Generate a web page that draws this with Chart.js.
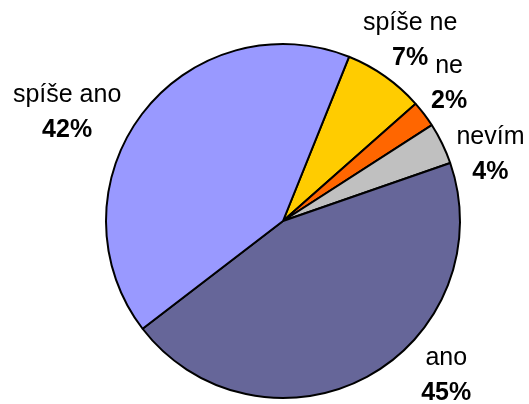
<!DOCTYPE html>
<html>
<head>
<meta charset="utf-8">
<script src="https://cdn.jsdelivr.net/npm/chart.js@4/dist/chart.umd.min.js"></script>
<style>
  html, body { margin: 0; padding: 0; background: #fff; }
  canvas { display: block; }
</style>
</head>
<body>
<canvas id="pie-canvas" width="529" height="404"></canvas>
<script>
// Answer categories, in drawing order (clockwise from the top-right)
const categories = ['spíše ne', 'ne', 'nevím', 'ano', 'spíše ano'];
// Share of answers in percent
const shares = [7.4, 2.4, 3.8, 44.9, 41.5];
const sliceColors = ['#FFCC00', '#FF6600', '#C0C0C0', '#666699', '#9999FF'];

// Label placement: angle shift from the slice middle (deg) and distance as a multiple of radius
const labelShift = [1, -1, 10, -17, -12];
const labelDist = [1.216, 1.193, 1.219, 1.297, 1.348];

const FONT = "'Liberation Sans', Arial, sans-serif";

// Outside labels: category name, then bold percentage underneath
const outsideLabels = {
  id: 'outsideLabels',
  afterDatasetsDraw(chart) {
    const ctx = chart.ctx;
    const meta = chart.getDatasetMeta(0);
    const total = shares.reduce((s, v) => s + v, 0);
    ctx.save();
    ctx.fillStyle = '#000';
    ctx.textAlign = 'center';
    ctx.textBaseline = 'alphabetic';
    meta.data.forEach((arc, i) => {
      const p = arc.getProps(['x', 'y', 'startAngle', 'endAngle', 'outerRadius'], true);
      const mid = (p.startAngle + p.endAngle) / 2 + labelShift[i] * Math.PI / 180;
      const r = p.outerRadius * labelDist[i];
      const lx = p.x + Math.cos(mid) * r;
      const ly = p.y + Math.sin(mid) * r;
      ctx.font = '25px ' + FONT;
      ctx.fillText(categories[i], lx, ly - 17.5);
      ctx.font = 'bold 25px ' + FONT;
      ctx.fillText(Math.round(shares[i] / total * 100) + '%', lx, ly + 17.5);
    });
    ctx.restore();
  },
};

new Chart(document.getElementById('pie-canvas'), {
  type: 'pie',
  data: {
    labels: categories,
    datasets: [{
      data: shares,
      backgroundColor: sliceColors,
      borderColor: '#000',
      borderWidth: 2,
    }],
  },
  options: {
    responsive: false,
    animation: false,
    rotation: 21.9,
    layout: { padding: { left: 105, right: 68, top: 43, bottom: 5 } },
    plugins: {
      legend: { display: false },
      tooltip: { enabled: false },
    },
  },
  plugins: [outsideLabels],
});
</script>
</body>
</html>
